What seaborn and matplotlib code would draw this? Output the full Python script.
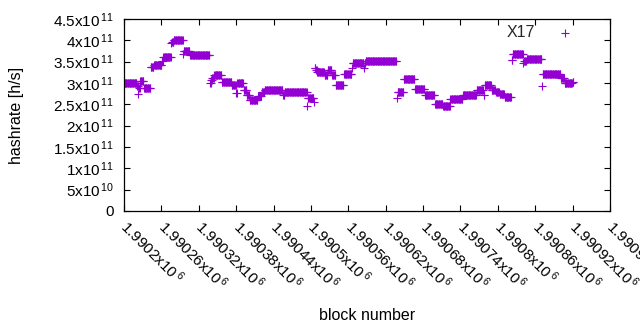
import numpy as np
import pandas as pd
import seaborn as sns
import matplotlib
matplotlib.use("Agg")
import matplotlib.pyplot as plt
from matplotlib.ticker import FuncFormatter, MultipleLocator

# plateau readings: first block of each run and its hashrate (x1e11 h/s)
seg_start = [1990200, 1990221, 1990223, 1990224, 1990226, 1990232, 1990243, 1990248,
             1990261, 1990263, 1990276, 1990277, 1990280, 1990295, 1990296, 1990306,
             1990338, 1990340, 1990342, 1990345, 1990357, 1990373, 1990380, 1990382,
             1990392, 1990397, 1990402, 1990415, 1990421, 1990426, 1990455, 1990458,
             1990494, 1990495, 1990505, 1990506, 1990508, 1990510, 1990522, 1990527,
             1990534, 1990540, 1990553, 1990566, 1990567, 1990585, 1990586, 1990588,
             1990638, 1990639, 1990649, 1990667, 1990683, 1990699, 1990712, 1990724,
             1990744, 1990766, 1990777, 1990779, 1990790, 1990797, 1990803, 1990811,
             1990822, 1990824, 1990841, 1990842, 1990846, 1990871, 1990872, 1990901,
             1990907, 1990920]
seg_end = 1990922
seg_vals = [3.01, 2.93, 2.75, 2.88, 3.04, 2.89, 3.38, 3.43,
            3.51, 3.62, 3.93, 3.97, 4.00, 3.69, 3.75, 3.65,
            3.01, 3.08, 3.12, 3.18, 3.02, 2.95, 2.76, 2.99,
            2.83, 2.73, 2.61, 2.69, 2.79, 2.83, 2.71, 2.79,
            2.47, 2.66, 2.55, 3.36, 3.30, 3.26, 3.18, 3.30,
            3.18, 2.96, 3.20, 3.34, 3.46, 3.34, 3.46, 3.51,
            2.65, 2.80, 3.10, 2.85, 2.71, 2.51, 2.46, 2.63,
            2.73, 2.83, 2.71, 2.95, 2.83, 2.79, 2.75, 2.67,
            3.53, 3.67, 3.47, 3.52, 3.57, 2.94, 3.20, 3.12,
            2.99, 3.02]

bounds = seg_start + [seg_end]
blocks, rates = [], []
for i, v in enumerate(seg_vals):
    b = np.arange(bounds[i], bounds[i + 1])
    blocks.extend(b)
    rates.extend([v * 1e11] * len(b))
df = pd.DataFrame({"block": blocks, "hashrate": rates})

sns.set_theme(style="ticks")
plt.rcParams["font.family"] = ["Liberation Sans", "DejaVu Sans"]
plt.rcParams["mathtext.default"] = "regular"

fig = plt.figure(figsize=(6.4, 3.3), dpi=100)
ax = fig.add_axes([124 / 640, 1 - 211 / 330, 486 / 640, 192 / 330])

sns.scatterplot(data=df, x="block", y="hashrate", marker="+", s=30,
                linewidth=0.8, color="#9400D3", label="X17", ax=ax)

ax.set_xlim(1990200, 1990980)
ax.set_ylim(0, 4.5e11)
ax.xaxis.set_major_locator(MultipleLocator(60))
ax.yaxis.set_major_locator(MultipleLocator(0.5e11))


def xfmt(v, pos):
    return f"{v / 1e6:g}x10$^{{\\,6}}$"


def yfmt(v, pos):
    if v <= 0:
        return "0"
    e = int(np.floor(np.log10(v) + 1e-9))
    return f"{round(v / 10 ** e, 2):g}x10$^{{\\,{e}}}$"


ax.xaxis.set_major_formatter(FuncFormatter(xfmt))
ax.yaxis.set_major_formatter(FuncFormatter(yfmt))
ax.tick_params(direction="in", length=4, width=0.8, top=True, right=True,
               labelsize=11, colors="black")
ax.tick_params(axis="x", pad=9)
ax.tick_params(axis="y", pad=7)
for lab in ax.get_xticklabels():
    lab.set_rotation(-45)
    lab.set_ha("left")
    lab.set_va("center")
    lab.set_rotation_mode("anchor")
for sp in ax.spines.values():
    sp.set_color("black")
    sp.set_linewidth(0.9)

ax.set_xlabel("block number", fontsize=11.5, color="black")
ax.set_ylabel("hashrate [h/s]", fontsize=11.5, color="black")
ax.xaxis.set_label_coords(0.5, (211 - 315) / 192)
ax.xaxis.label.set_va("center")
ax.yaxis.set_label_coords((17 - 124) / 486, 0.5)
ax.yaxis.label.set_va("center")

ax.legend(loc="upper right", bbox_to_anchor=(0.94, 0.97), frameon=False,
          markerfirst=False, fontsize=11.5, handlelength=2.0, handletextpad=0.9,
          borderaxespad=0, borderpad=0)

fig.savefig("out.png", dpi=100)
